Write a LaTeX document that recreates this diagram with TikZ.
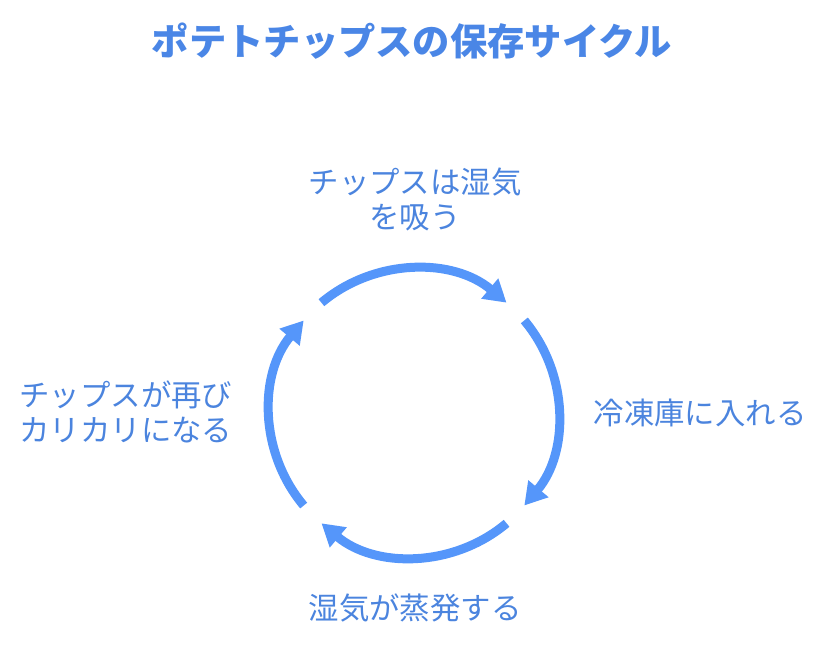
\documentclass[tikz,border=0pt]{standalone}
\usepackage{fontspec}
\setmainfont{Noto Sans CJK JP}
\usetikzlibrary{calc,arrows.meta}
\definecolor{titleblue}{HTML}{4A86E6}
\definecolor{labelblue}{HTML}{4B84DE}
\definecolor{ringblue}{HTML}{5596FA}

\begin{document}
\begin{tikzpicture}[x=1pt,y=1pt,
  ring/.style={ringblue,line width=9pt,-{Triangle[length=22pt,width=25pt]}},
  lbl/.style={labelblue,font=\fontsize{30.4}{35}\selectfont,align=center}]
\useasboundingbox (0,0) rectangle (828,648);

\node[titleblue,font=\fontsize{37.3}{40}\selectfont\bfseries] (title) at (412,607) {ポテトチップスの保存サイクル};

\node[lbl] (absorb) at (415,449) {チップスは湿気\\を吸う};
\node[lbl] (freeze) at (700,235) {冷凍庫に入れる};
\node[lbl] (evap) at (415,40) {湿気が蒸発する};
\node[lbl] (crisp) at (126,236) {チップスが再び\\カリカリになる};

\coordinate (C) at (414,235);

\coordinate (r1) at ($(C) + (130:144)$);
\coordinate (r2) at ($(C) + (40:144)$);
\coordinate (r3) at ($(C) + (-50:144)$);
\coordinate (r4) at ($(C) + (-140:144)$);

\draw[ring] (r1) arc[start angle=130,end angle=50,radius=144pt];
\draw[ring] (r2) arc[start angle=40,end angle=-40,radius=144pt];
\draw[ring] (r3) arc[start angle=-50,end angle=-130,radius=144pt];
\draw[ring] (r4) arc[start angle=-140,end angle=-220,radius=144pt];

%\draw[ringblue] (C) circle (144pt);

\end{tikzpicture}
\end{document}
